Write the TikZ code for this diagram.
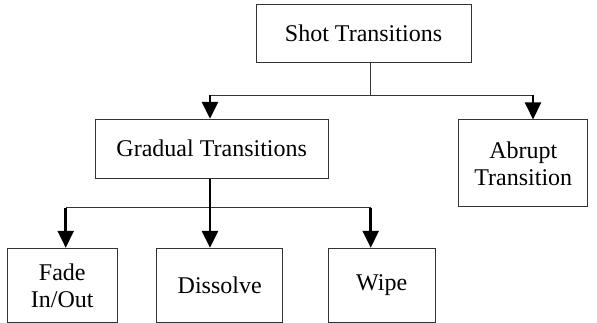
\documentclass[tikz,border=0pt]{standalone}
\usepackage{fontspec}
\setmainfont{Liberation Serif}
\usetikzlibrary{arrows.meta,calc}
\begin{document}
\begin{tikzpicture}[x=1pt,y=-1pt,
  box/.style={draw=black!80,line width=1pt,inner sep=0pt,align=center,
    font=\fontsize{24}{27}\selectfont},
  thinline/.style={draw=black!80,line width=1pt},
  arr/.style={draw=black,line width=2.5pt,-{Triangle[length=17pt,width=16pt]}}]
\useasboundingbox (0,0) rectangle (597,323);
\node[box,minimum width=215pt,minimum height=58pt] (shot) at (363.5,33.7) {Shot Transitions};
\node[box,minimum width=233.3pt,minimum height=58.7pt] (gradual) at (211.7,148.7) {Gradual Transitions};
\node[box,minimum width=128.7pt,minimum height=86.7pt] (abrupt) at (523.3,163.3) {Abrupt\\Transition};
\node[box,minimum width=110pt,minimum height=74pt] (fade) at (62.3,285.3) {Fade\\In/Out};
\node[box,minimum width=126pt,minimum height=74pt] (dissolve) at (219.7,285.3) {Dissolve};
\node[box,minimum width=107pt,minimum height=74pt] (wipe) at (381.7,285.3) {Wipe};
\coordinate (tj) at (370.7,95.5);
\coordinate (gx) at (210,0);
\coordinate (ax) at (533,0);
\coordinate (bj) at (210,207.7);
\coordinate (fx) at (65.7,0);
\coordinate (wx) at (370.7,0);
\draw[thinline] (shot.south -| tj) -- (tj);
\draw[thinline] (gx |- tj) -- (ax |- tj);
\draw[arr] (gx |- tj) -- (gx |- gradual.north);
\draw[arr] (ax |- tj) -- (ax |- abrupt.north);
\draw[thinline] (fx |- bj) -- (wx |- bj);
\draw[arr] (gx |- gradual.south) -- (gx |- dissolve.north);
\draw[arr] (fx |- bj) -- (fx |- fade.north);
\draw[arr] (wx |- bj) -- (wx |- wipe.north);
\end{tikzpicture}
\end{document}
